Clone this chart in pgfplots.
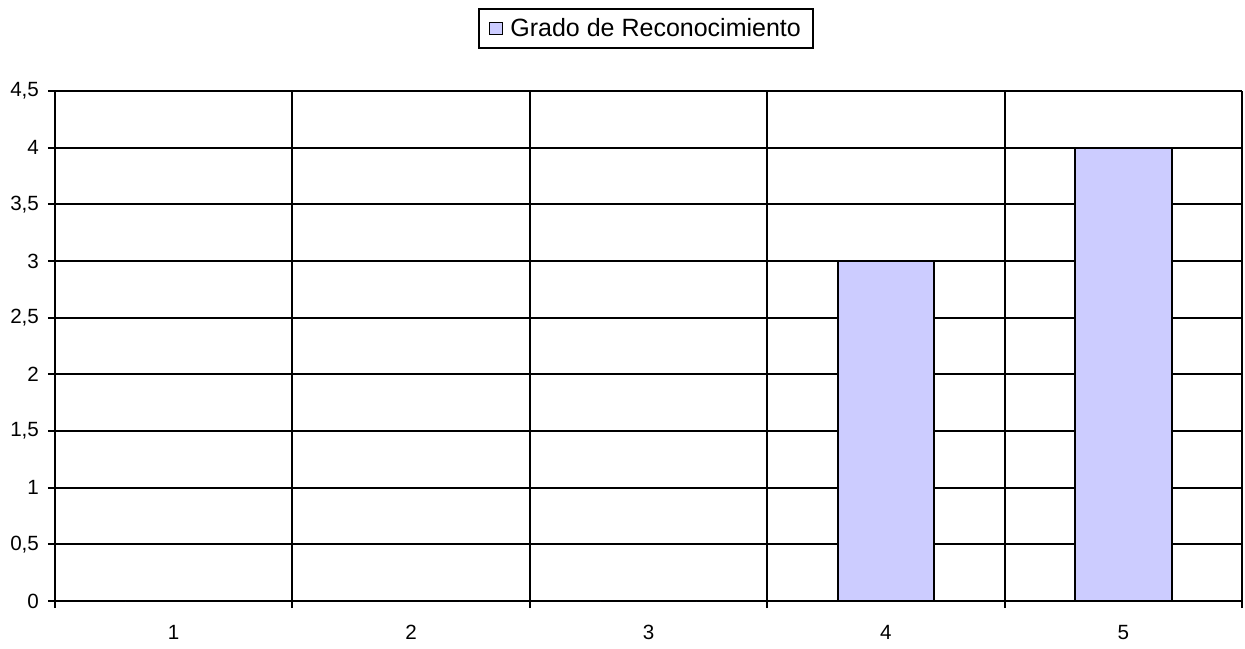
\documentclass[border=0pt]{standalone}
\usepackage{pgfplots}
\pgfplotsset{compat=1.18}
\usepackage{fontspec}
\setmainfont{Liberation Sans}
\definecolor{barfill}{HTML}{CCCCFF}
\begin{document}
\begin{tikzpicture}[x=1pt,y=1pt]
\useasboundingbox (-27.5pt,-23.5pt) rectangle (595pt,300.5pt);
\begin{axis}[
  at={(0,0)}, anchor=south west,
  scale only axis,
  width=593.5pt, height=255pt,
  xmin=0.5, xmax=5.5,
  ymin=0, ymax=4.5,
  xtick={1,2,3,4,5},
  xticklabels={1,2,3,4,5},
  major x tick style={draw=none},
  minor xtick={0.5,1.5,2.5,3.5,4.5,5.5},
  xminorgrids,
  minor x tick style={black, line width=1pt},
  ytick={0,0.5,...,4.5},
  ymajorgrids,
  grid style={black, line width=1pt},
  tick align=outside,
  major tick length=3.5pt,
  minor tick length=3.5pt,
  axis line style={black, line width=1pt},
  y tick style={black, line width=1pt},
  axis x line*=bottom,
  axis y line*=left,
  yticklabel style={/pgf/number format/use comma, /pgf/number format/assume math mode=true, font=\fontsize{10.3}{12}\selectfont, xshift=-1pt},
  xticklabel style={font=\fontsize{10.3}{12}\selectfont, yshift=-5pt},
  /pgf/number format/assume math mode=true,
  legend style={at={(0.498,1.1225)}, anchor=center, draw=black, line width=1pt, font=\fontsize{12.5}{14}\selectfont, inner xsep=4.2pt, inner ysep=2.5pt},
  legend image code/.code={\path[draw=none,fill=none] (-1.2pt,0pt) -- (8.3pt,0pt);\draw[fill=barfill, draw=black, line width=0.6pt] (0pt,-3.1pt) rectangle (6.2pt,3.1pt);},
]
\addplot[ybar, bar width=0.406, fill=barfill, draw=black, line width=1pt] coordinates {(1,0) (2,0) (3,0) (4,3) (5,4)};
\addlegendentry{Grado de Reconocimiento}
\end{axis}
\end{tikzpicture}
\end{document}
